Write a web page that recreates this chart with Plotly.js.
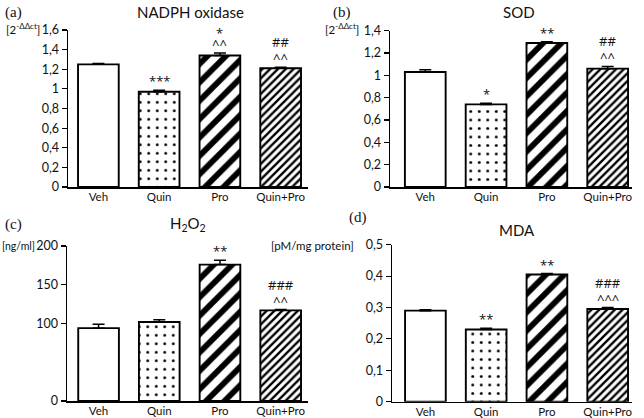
<!DOCTYPE html>
<html><head><meta charset="utf-8">
<script src="https://cdn.plot.ly/plotly-3.0.1.min.js"></script>
<style>html,body{margin:0;padding:0;background:#fff}#chart{width:644px;height:418px}</style>
</head><body><div id="chart"></div>
<script>
const categories = ['Veh', 'Quin', 'Pro', 'Quin+Pro'];

const nadph = [1.25, 0.97, 1.34, 1.21];
const nadphErr = [0.008, 0.015, 0.025, 0.01];
const nadphSig = ['', '***', '*<br>^^', '##<br>^^'];

const sod = [1.03, 0.74, 1.29, 1.06];
const sodErr = [0.02, 0.01, 0.01, 0.02];
const sodSig = ['', '*', '**', '##<br>^^'];

const h2o2 = [94, 102, 176, 117];
const h2o2Err = [5, 3, 5.5, 1];
const h2o2Sig = ['', '', '**', '###<br>^^'];

const mda = [0.29, 0.23, 0.405, 0.295];
const mdaErr = [0.003, 0.004, 0.003, 0.005];
const mdaSig = ['', '**', '**', '###<br>^^^'];

const h2o2Ticks = [0, 100, 150, 200];

const W = 644, H = 418;
const fx = p => p / W;
const fy = p => 1 - p / H;

const pattern = {
  shape: ['', '.', '/', '/'],
  size: [8.5, 8.5, 13, 5.5],
  solidity: [0.1, 0.09, 0.45, 0.42],
  fgcolor: 'black',
  bgcolor: 'white',
  fillmode: 'replace'
};

function barTrace(vals, errs, xa, ya) {
  return {
    type: 'bar', x: categories, y: vals, xaxis: xa, yaxis: ya,
    width: 0.67,
    marker: {color: 'white', line: {color: 'black', width: 1.9}, pattern: pattern},
    error_y: {type: 'data', symmetric: false, array: errs, arrayminus: errs.map(() => 0),
              color: 'black', thickness: 1.5, width: 6},
    hoverinfo: 'none', showlegend: false
  };
}

const data = [
  barTrace(nadph, nadphErr, 'x', 'y'),
  barTrace(sod, sodErr, 'x2', 'y2'),
  barTrace(h2o2, h2o2Err, 'x3', 'y3'),
  barTrace(mda, mdaErr, 'x4', 'y4')
];

const SANS = 'Lato, Open Sans, sans-serif';
const tickFont = {family: SANS, size: 11.5, color: '#111'};
function xax(x0, x1, anchor, r) {
  return {domain: [fx(x0), fx(x1)], anchor: anchor, range: r, showline: true, linecolor: 'black',
          linewidth: 1.5, ticks: '', ticklabelstandoff: -1, tickfont: tickFont, showgrid: false, zeroline: false, fixedrange: true};
}
function yax(y0, y1, anchor, r, extra) {
  return Object.assign({domain: [fy(y1), fy(y0)], anchor: anchor, range: r, showline: true, linecolor: 'black',
          linewidth: 1.5, ticks: 'outside', ticklen: 5, tickwidth: 1.2, tickcolor: 'black',
          tickfont: {family: SANS, size: 12.5, color: '#111'}, showgrid: false, zeroline: false, fixedrange: true}, extra);
}

const annFont = {family: 'Open Sans, sans-serif', size: 13, color: '#111'};
const annotations = [];
function addSig(vals, errs, sig, xa, ya) {
  sig.forEach((s, i) => {
    if (!s) return;
    const lines = s.split('<br>').reverse();
    let shift = 0;
    lines.forEach((ln, k) => {
      if (k > 0) shift += (ln.indexOf('*') >= 0) ? 11 : 16;
      annotations.push({xref: xa, yref: ya, x: categories[i], y: vals[i] + errs[i], text: ln,
        showarrow: false, yanchor: 'bottom', yshift: shift - 2, font: annFont});
    });
  });
}
addSig(nadph, nadphErr, nadphSig, 'x', 'y');
addSig(sod, sodErr, sodSig, 'x2', 'y2');
addSig(h2o2, h2o2Err, h2o2Sig, 'x3', 'y3');
addSig(mda, mdaErr, mdaSig, 'x4', 'y4');

function paperText(text, x, y, xanchor, font) {
  annotations.push({xref: 'paper', yref: 'paper', x: fx(x), y: fy(y), text: text, showarrow: false,
    xanchor: xanchor, yanchor: 'middle', font: font});
}
const titleFont = {family: SANS, size: 15, color: '#111'};
const labFont = {family: 'Liberation Serif, serif', size: 15, color: '#111'};
const unitFont = {family: SANS, size: 11.5, color: '#111'};

paperText('NADPH oxidase', 190, 12, 'center', titleFont);
paperText('SOD', 519, 12, 'center', titleFont);
paperText('H<sub>2</sub>O<sub>2</sub>', 188, 224, 'center', titleFont);
paperText('MDA', 517, 230, 'center', titleFont);

paperText('(a)', 3, 12, 'left', labFont);
paperText('(b)', 331, 12, 'left', labFont);
paperText('(c)', 3, 224, 'left', labFont);
paperText('(d)', 347, 218, 'left', labFont);

paperText('[2<sup>-ΔΔct</sup>]', 42, 29, 'right', unitFont);
paperText('[2<sup>-ΔΔct</sup>]', 361, 29, 'right', unitFont);
paperText('[ng/ml]', 0, 246, 'left', {family: SANS, size: 10.5, color: '#111'});
paperText('[pM/mg protein]', 356, 245, 'right', unitFont);

const layout = {
  width: W, height: H, margin: {l: 0, r: 0, t: 0, b: 0},
  paper_bgcolor: 'white', plot_bgcolor: 'white', separators: ',.',
  xaxis: xax(68, 308, 'y', [-0.5, 3.45]),
  yaxis: yax(30, 187, 'x', [0, 1.6], {dtick: 0.2, tick0: 0}),
  xaxis2: xax(390, 632, 'y2', [-0.58, 3.4]),
  yaxis2: yax(30.7, 187, 'x2', [0, 1.4], {dtick: 0.2, tick0: 0}),
  xaxis3: xax(67, 308, 'y3', [-0.52, 3.45]),
  yaxis3: yax(246, 401, 'x3', [0, 200], {tickmode: 'array', tickvals: h2o2Ticks, ticktext: h2o2Ticks.map(String)}),
  xaxis4: xax(392, 632, 'y4', [-0.55, 3.4]),
  yaxis4: yax(244.7, 401.7, 'x4', [0, 0.5], {dtick: 0.1, tick0: 0}),
  annotations: annotations
};

Plotly.newPlot('chart', data, layout, {displayModeBar: false, staticPlot: true});
</script></body></html>
